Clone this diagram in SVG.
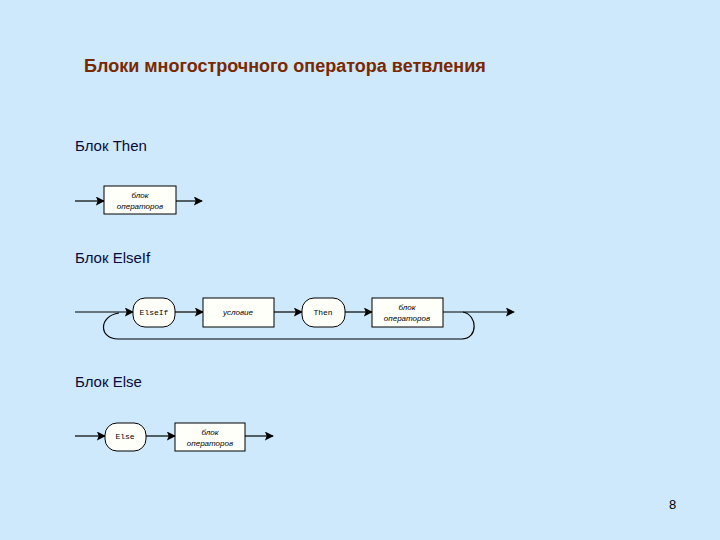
<svg xmlns="http://www.w3.org/2000/svg" width="720" height="540" viewBox="0 0 720 540">
<defs>
<style>
.ln{stroke:#000;stroke-width:1.2;fill:none}
.bx{fill:#fffffa;stroke:#000;stroke-width:1}
.sm{font-family:"Liberation Sans",Arial,sans-serif;font-size:8px;font-style:italic;fill:#000;text-anchor:middle}
.mono{font-family:"Liberation Mono","Courier New",monospace;font-size:8px;fill:#000;text-anchor:middle}
.hd{font-family:"Liberation Sans",Arial,sans-serif;font-size:15px;fill:#0a0a3c}
</style>
<marker id="ar" viewBox="0 0 10 10" refX="9" refY="5" markerWidth="9" markerHeight="9" markerUnits="userSpaceOnUse" orient="auto">
<path d="M0,0 L10,5 L0,10 L2,5 Z" fill="#000"/>
</marker>
</defs>
<rect width="720" height="540" fill="#cde9fb"/>
<text x="84" y="72" font-family="'Liberation Sans',Arial,sans-serif" font-size="18" font-weight="bold" fill="#7a2800">Блоки многострочного оператора ветвления</text>
<text class="hd" x="75" y="151">Блок Then</text>
<text class="hd" x="75" y="263">Блок ElseIf</text>
<text class="hd" x="75" y="387">Блок Else</text>
<text x="669" y="509" font-family="'Liberation Sans',Arial,sans-serif" font-size="13" fill="#000">8</text>

<g id="connectors">
<line class="ln" x1="75" y1="201" x2="104" y2="201" marker-end="url(#ar)"/>
<line class="ln" x1="176" y1="201" x2="202" y2="201" marker-end="url(#ar)"/>
<line class="ln" x1="75" y1="312" x2="133" y2="312" marker-end="url(#ar)"/>
<line class="ln" x1="175" y1="312" x2="203" y2="312" marker-end="url(#ar)"/>
<line class="ln" x1="274" y1="312" x2="302" y2="312" marker-end="url(#ar)"/>
<line class="ln" x1="345" y1="312" x2="372" y2="312" marker-end="url(#ar)"/>
<line class="ln" x1="443" y1="312" x2="514" y2="312" marker-end="url(#ar)"/>
<path class="ln" d="M119,313 C98,316 99,339 118,339 L462,339 C478,339 478,315 463,312"/>
<line class="ln" x1="75" y1="436" x2="105" y2="436" marker-end="url(#ar)"/>
<line class="ln" x1="146" y1="436" x2="175" y2="436" marker-end="url(#ar)"/>
<line class="ln" x1="245" y1="436" x2="273" y2="436" marker-end="url(#ar)"/>
</g>

<g id="then-block">
<rect class="bx" x="104" y="186" width="72" height="28"/>
<text class="sm" x="140" y="198">блок</text>
<text class="sm" x="140" y="209">операторов</text>
</g>

<g id="elseif-kw">
<rect class="bx" x="133" y="298" width="42" height="29" rx="12"/>
<text class="mono" x="154" y="315">ElseIf</text>
</g>
<g id="elseif-cond">
<rect class="bx" x="203" y="298" width="71" height="29"/>
<text class="sm" x="238" y="315">условие</text>
</g>
<g id="elseif-then">
<rect class="bx" x="302" y="298" width="43" height="29" rx="12"/>
<text class="mono" x="323" y="315">Then</text>
</g>
<g id="elseif-block">
<rect class="bx" x="372" y="298" width="71" height="29"/>
<text class="sm" x="407" y="310">блок</text>
<text class="sm" x="407" y="321">операторов</text>
</g>

<g id="else-kw">
<rect class="bx" x="105" y="423" width="41" height="28" rx="12"/>
<text class="mono" x="125" y="439">Else</text>
</g>
<g id="else-block">
<rect class="bx" x="175" y="423" width="70" height="28"/>
<text class="sm" x="210" y="435">блок</text>
<text class="sm" x="210" y="446">операторов</text>
</g>
</svg>
